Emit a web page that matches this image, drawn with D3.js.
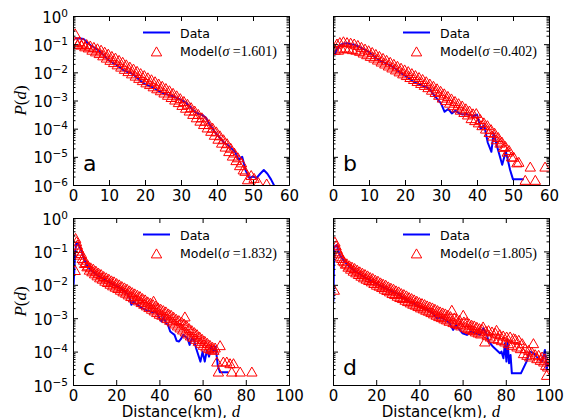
<!DOCTYPE html>
<html><head><meta charset="utf-8">
<script src="https://cdn.jsdelivr.net/npm/d3@7"></script>
<style>body{margin:0;background:#fff;} svg{display:block;}</style>
</head><body>
<svg id="chart" width="569" height="418"></svg>
<script>
// ---- DATA: [distance d (km), log10 P(d)] ----
const dataA = [[0.5,-0.8],[1,-0.8],[2,-0.8],[3,-0.82],[4,-0.95],[5,-1.05],[6,-1.12],[7,-1.22],[8,-1.33],[9,-1.45],[10,-1.58],[11,-1.66],[12,-1.73],[13,-1.83],[14,-1.92],[15,-1.98],[16,-2.02],[17,-2.1],[18,-2.22],[19,-2.33],[20,-2.42],[21,-2.47],[22,-2.52],[23,-2.6],[24,-2.68],[25,-2.74],[26,-2.78],[27,-2.82],[28,-2.86],[29,-2.92],[30,-2.98],[31,-3.05],[32,-3.15],[33,-3.3],[34,-3.42],[35,-3.48],[36,-3.52],[37,-3.62],[38,-3.85],[39,-4.05],[40,-4.2],[41,-4.35],[42,-4.5],[43,-4.58],[44,-4.7],[45,-4.82],[46,-5.1],[47,-5.0],[48,-5.5],[49,-5.75],[50,-5.7],[51,-5.75],[52,-5.6],[53,-5.47],[54,-5.6],[55,-5.8],[56,-6.05]];
const modelA = [[0.6,-0.62],[0.8,-0.92],[1.3,-1.0],[1.8,-0.9],[2.3,-1.02],[2.8,-0.95],[3.3,-1.08],[3.8,-1.0],[4.3,-1.12],[4.8,-1.05],[5.3,-1.2],[5.8,-1.1],[6.3,-1.26],[6.8,-1.15],[7.3,-1.32],[7.8,-1.2],[8.3,-1.4],[8.8,-1.27],[9.3,-1.48],[9.8,-1.34],[10.3,-1.56],[10.8,-1.42],[11.3,-1.64],[11.8,-1.48],[12.3,-1.72],[12.8,-1.56],[13.3,-1.8],[13.8,-1.63],[14.3,-1.88],[14.8,-1.72],[15.3,-1.96],[15.8,-1.8],[16.3,-2.04],[16.8,-1.87],[17.3,-2.12],[17.8,-1.95],[18.3,-2.2],[18.8,-2.03],[19.3,-2.28],[19.8,-2.1],[20.3,-2.36],[20.8,-2.18],[21.3,-2.42],[21.8,-2.25],[22.3,-2.5],[22.8,-2.32],[23.3,-2.57],[23.8,-2.4],[24.3,-2.64],[24.8,-2.48],[25.3,-2.72],[25.8,-2.56],[26.3,-2.8],[26.8,-2.64],[27.3,-2.88],[27.8,-2.73],[28.3,-2.97],[28.8,-2.82],[29.3,-3.06],[29.8,-2.92],[30.3,-3.16],[30.8,-3.02],[31.3,-3.26],[31.8,-3.12],[32.3,-3.36],[32.8,-3.24],[33.3,-3.48],[33.8,-3.36],[34.3,-3.6],[34.8,-3.48],[35.3,-3.72],[35.8,-3.6],[36.3,-3.84],[36.8,-3.72],[37.3,-3.96],[37.8,-3.84],[38.3,-4.08],[38.8,-3.97],[39.3,-4.22],[39.8,-4.1],[40.3,-4.36],[40.8,-4.24],[41.3,-4.5],[41.8,-4.38],[42.3,-4.64],[42.8,-4.52],[43.3,-4.8],[43.8,-4.68],[44.3,-4.96],[44.8,-4.85],[45.3,-5.12],[45.8,-5.02],[46.3,-5.3],[46.8,-5.2],[47.3,-5.45],[47.8,-5.5],[48.5,-5.8],[49.5,-5.65],[50.3,-5.75],[51.5,-5.9],[53.8,-5.95]];

const dataB = [[0.6,-1.38],[1,-1.2],[2,-1.03],[3,-0.98],[4,-0.97],[5,-1.0],[6,-1.02],[7,-1.08],[8,-1.14],[9,-1.2],[10,-1.28],[11,-1.38],[12,-1.5],[13,-1.58],[14,-1.64],[15,-1.7],[16,-1.76],[17,-1.84],[18,-1.94],[19,-2.04],[20,-2.12],[21,-2.2],[22,-2.3],[23,-2.38],[24,-2.42],[25,-2.48],[26,-2.53],[27,-2.62],[28,-2.8],[29,-2.95],[30,-3.1],[31,-3.4],[32,-3.3],[33,-3.46],[34,-3.36],[35,-3.45],[36,-3.5],[37,-3.48],[38,-3.52],[39,-3.55],[40,-3.5],[41,-4.0],[42,-3.88],[43,-4.5],[44,-4.82],[44.6,-4.15],[45.5,-4.6],[47,-5.28],[48,-4.8],[49.2,-5.47],[50,-5.8],[53,-5.8]];
const modelB = [[0.6,-1.2],[1.1,-0.98],[1.5,-1.2],[1.9,-0.93],[2.4,-1.15],[2.9,-0.9],[3.4,-1.12],[3.9,-0.93],[4.4,-1.15],[4.9,-0.95],[5.4,-1.18],[5.9,-0.98],[6.4,-1.2],[6.9,-1.03],[7.4,-1.24],[7.9,-1.1],[8.4,-1.3],[8.9,-1.16],[9.4,-1.36],[9.9,-1.22],[10.4,-1.42],[10.9,-1.28],[11.4,-1.48],[11.9,-1.35],[12.4,-1.55],[12.9,-1.42],[13.4,-1.62],[13.9,-1.49],[14.4,-1.69],[14.9,-1.56],[15.4,-1.76],[15.9,-1.63],[16.4,-1.83],[16.9,-1.7],[17.4,-1.9],[17.9,-1.77],[18.4,-1.97],[18.9,-1.84],[19.4,-2.04],[19.9,-1.9],[20.4,-2.1],[20.9,-1.96],[21.4,-2.17],[21.9,-2.03],[22.4,-2.24],[22.9,-2.1],[23.4,-2.31],[23.9,-2.17],[24.4,-2.38],[24.9,-2.24],[25.4,-2.45],[25.9,-2.32],[26.4,-2.53],[26.9,-2.4],[27.4,-2.62],[27.9,-2.48],[28.4,-2.7],[28.9,-2.57],[29.4,-2.8],[29.9,-2.66],[30.4,-2.9],[30.9,-2.75],[31.4,-2.99],[31.9,-2.84],[32.4,-3.08],[32.9,-2.93],[33.4,-3.17],[33.9,-3.02],[34.4,-3.25],[34.9,-3.1],[35.4,-3.33],[35.9,-3.18],[36.4,-3.41],[36.9,-3.28],[37.4,-3.5],[37.9,-3.36],[38.4,-3.63],[38.9,-3.46],[39.4,-3.7],[39.8,-3.45],[40.4,-3.78],[40.9,-3.66],[41.4,-3.88],[41.9,-3.78],[42.4,-4.0],[42.9,-3.88],[43.4,-4.12],[43.9,-4.02],[44.4,-4.25],[44.9,-4.15],[45.4,-4.38],[45.9,-4.3],[46.4,-4.5],[46.9,-4.46],[47.4,-4.65],[47.9,-4.62],[48.4,-4.82],[48.9,-4.76],[49.6,-4.99],[50.2,-5.0],[51.1,-5.2],[51.6,-5.18],[53.4,-5.82],[54.8,-5.35],[56.2,-5.82],[58.9,-5.35]];

const dataC = [[0.3,-2.0],[1,-1.0],[1.5,-0.76],[2,-0.74],[3,-0.85],[4,-1.0],[5,-1.2],[6,-1.36],[7,-1.47],[8,-1.54],[9,-1.6],[10,-1.65],[11,-1.7],[12,-1.74],[13,-1.78],[14,-1.82],[15,-1.86],[16,-1.9],[17,-1.93],[18,-1.96],[19,-2.0],[20,-2.03],[21,-2.06],[22,-2.1],[23,-2.15],[24,-2.2],[25,-2.26],[26,-2.35],[27,-2.6],[28,-2.5],[29,-2.56],[30,-2.6],[31,-2.66],[32,-2.7],[33,-2.73],[34,-2.76],[35,-2.78],[36,-2.8],[37,-2.82],[38,-2.8],[39,-2.85],[40,-3.0],[41,-3.1],[42,-2.95],[43,-3.15],[44,-3.2],[45,-3.4],[46,-3.45],[47,-3.5],[48,-3.68],[49,-3.7],[50,-3.62],[51,-3.5],[52,-3.55],[53,-3.6],[54,-3.8],[55,-3.6],[56,-3.65],[57,-3.9],[58,-4.1],[59,-4.3],[60,-4.0],[61,-4.3],[62,-3.95],[63,-4.15],[64,-3.85],[65,-4.0],[66,-3.85],[67,-4.4],[68,-4.62],[72,-4.62]];
const modelC = [[1.0,-1.56],[1.2,-0.6],[1.6,-0.7],[2.0,-0.8],[2.5,-0.9],[3.0,-0.98],[3.4,-1.1],[3.8,-1.05],[4.3,-1.2],[4.9,-1.25],[5.4,-1.35],[6.0,-1.32],[6.5,-1.45],[7.0,-1.42],[7.6,-1.55],[8.2,-1.48],[8.8,-1.6],[9.4,-1.52],[10.0,-1.66],[10.6,-1.58],[11.2,-1.72],[11.8,-1.64],[12.4,-1.78],[13.0,-1.68],[13.6,-1.82],[14.2,-1.74],[14.8,-1.88],[15.4,-1.78],[16.0,-1.92],[16.6,-1.82],[17.2,-1.97],[17.8,-1.87],[18.4,-2.02],[19.0,-1.9],[19.6,-2.06],[20.2,-1.95],[20.8,-2.1],[21.4,-1.99],[22.0,-2.15],[22.6,-2.04],[23.2,-2.2],[23.8,-2.08],[24.4,-2.24],[25.0,-2.12],[25.6,-2.29],[26.2,-2.17],[26.8,-2.34],[27.4,-2.22],[28.0,-2.38],[28.6,-2.26],[29.2,-2.43],[29.8,-2.3],[30.4,-2.47],[31.0,-2.34],[31.6,-2.52],[32.2,-2.4],[32.8,-2.57],[33.4,-2.44],[34.0,-2.62],[34.6,-2.5],[35.2,-2.67],[35.8,-2.54],[36.4,-2.72],[37.0,-2.58],[37.3,-2.48],[37.6,-2.77],[38.2,-2.63],[38.8,-2.82],[39.4,-2.68],[40.0,-2.87],[40.6,-2.72],[41.2,-2.9],[41.8,-2.76],[42.4,-2.95],[43.0,-2.8],[43.6,-3.0],[44.2,-2.86],[44.8,-3.05],[45.4,-2.9],[46.0,-3.1],[46.6,-2.96],[47.2,-3.16],[47.8,-3.02],[48.4,-3.22],[49.0,-3.06],[49.6,-3.28],[50.2,-3.1],[50.8,-3.34],[51.4,-3.16],[51.8,-2.95],[52.0,-3.4],[52.6,-3.22],[53.2,-3.46],[53.8,-3.3],[54.4,-3.52],[55.0,-3.36],[55.6,-3.56],[56.2,-3.42],[56.8,-3.62],[57.4,-3.48],[58.0,-3.68],[58.6,-3.55],[59.2,-3.74],[59.8,-3.62],[60.4,-3.8],[61.0,-3.68],[61.6,-3.85],[62.2,-3.74],[62.8,-3.9],[63.4,-3.8],[64.0,-3.92],[64.6,-3.86],[65.2,-3.95],[65.8,-3.88],[66.6,-4.3],[67.3,-4.6],[68.1,-3.81],[69.6,-4.3],[71.2,-4.3],[72.7,-4.35],[73.5,-4.6],[74.3,-4.35],[77.4,-4.6],[82.8,-4.6]];

const dataD = [[0.2,-2.5],[0.6,-0.86],[1.7,-0.81],[3,-1.08],[4,-1.2],[5,-1.28],[6,-1.35],[8,-1.48],[10,-1.58],[12,-1.66],[14,-1.75],[16,-1.82],[18,-1.9],[20,-1.96],[22,-2.03],[24,-2.09],[26,-2.15],[28,-2.21],[30,-2.27],[32,-2.36],[34,-2.45],[36,-2.52],[38,-2.58],[40,-2.65],[42,-2.72],[44,-2.76],[46,-2.85],[48,-3.0],[50,-2.98],[52,-3.05],[54,-3.15],[55.6,-3.35],[57,-3.2],[58,-3.3],[60,-3.45],[62,-3.5],[64,-3.4],[66,-3.45],[68,-3.5],[69.5,-3.3],[71,-3.45],[72,-3.68],[74,-3.85],[75.7,-3.95],[77.3,-4.05],[78,-4.0],[78.9,-4.2],[79.6,-3.75],[80.3,-4.3],[80.8,-3.65],[81.5,-4.35],[82.2,-4.1],[82.8,-4.65],[87,-4.65],[89.6,-4.3],[91.1,-4.0],[92.9,-4.05],[94.2,-4.15],[96.7,-4.3],[98.1,-3.95],[98.9,-4.55],[99.5,-4.3]];
const modelD = [[0.6,-2.15],[0.9,-0.71],[1.4,-0.82],[1.9,-0.92],[2.4,-1.0],[2.9,-1.06],[3.4,-1.15],[4.0,-1.2],[4.6,-1.27],[5.2,-1.3],[5.8,-1.37],[6.4,-1.36],[7.0,-1.46],[7.6,-1.42],[8.2,-1.52],[8.8,-1.46],[9.4,-1.58],[10.0,-1.5],[10.6,-1.63],[11.2,-1.55],[11.8,-1.68],[12.4,-1.6],[13.0,-1.73],[13.6,-1.64],[14.2,-1.78],[14.8,-1.68],[15.4,-1.82],[16.0,-1.72],[16.6,-1.86],[17.2,-1.77],[17.8,-1.9],[18.4,-1.8],[19.0,-1.95],[19.6,-1.85],[20.2,-2.0],[20.8,-1.88],[21.4,-2.03],[22.0,-1.93],[22.6,-2.07],[23.2,-1.97],[23.8,-2.12],[24.4,-2.0],[25.0,-2.16],[25.6,-2.05],[26.2,-2.2],[26.8,-2.09],[27.4,-2.25],[28.0,-2.12],[28.6,-2.28],[29.2,-2.17],[29.8,-2.33],[30.4,-2.2],[31.0,-2.37],[31.6,-2.25],[32.2,-2.4],[32.8,-2.28],[33.4,-2.45],[34.0,-2.32],[34.6,-2.49],[35.2,-2.37],[35.8,-2.53],[36.4,-2.4],[37.0,-2.57],[37.6,-2.44],[38.2,-2.6],[38.8,-2.48],[39.4,-2.64],[40.0,-2.52],[40.6,-2.68],[41.2,-2.55],[41.8,-2.71],[42.4,-2.58],[43.0,-2.75],[43.6,-2.62],[44.2,-2.78],[44.8,-2.65],[45.4,-2.82],[46.0,-2.68],[46.6,-2.86],[47.2,-2.72],[47.8,-2.9],[48.4,-2.76],[49.0,-2.94],[49.6,-2.8],[50.2,-2.97],[50.8,-2.83],[51.4,-3.01],[52.0,-2.86],[52.6,-3.04],[53.2,-2.9],[53.8,-3.08],[54.4,-2.94],[55.0,-2.75],[55.6,-3.12],[56.2,-2.98],[56.8,-3.15],[57.4,-3.02],[58.0,-3.18],[58.6,-3.05],[59.2,-3.22],[60.3,-2.9],[60.6,-3.1],[61.2,-3.26],[61.8,-3.12],[62.4,-3.3],[63.0,-3.16],[63.6,-3.33],[64.2,-3.2],[64.8,-3.36],[65.4,-3.22],[66.0,-3.4],[66.6,-3.26],[67.2,-3.43],[67.8,-3.3],[68.4,-3.46],[69.0,-3.32],[69.5,-3.25],[70.3,-3.7],[70.8,-3.38],[71.4,-3.5],[72.0,-3.36],[72.8,-3.55],[73.6,-3.4],[74.4,-3.6],[75.2,-3.44],[75.7,-3.35],[76.4,-3.62],[77.2,-3.48],[78.0,-3.66],[78.8,-3.52],[79.6,-3.7],[80.4,-3.55],[81.2,-3.75],[82.0,-3.55],[82.8,-3.8],[83.6,-3.6],[84.4,-3.62],[85.2,-3.85],[86.0,-3.65],[86.8,-3.9],[87.6,-3.75],[88.2,-4.05],[89.0,-3.9],[89.8,-4.1],[90.6,-3.95],[91.1,-4.15],[92.0,-4.0],[92.8,-3.75],[93.6,-4.08],[94.4,-4.2],[95.2,-4.1],[96.0,-4.25],[96.8,-4.15],[97.6,-4.3],[98.1,-4.2],[98.5,-4.4],[98.9,-4.7],[99.4,-4.45]];

const sigmas = ["1.601", "0.402", "1.832", "1.805"];
const letters = ["a", "b", "c", "d"];
const xTicksTop = [0, 10, 20, 30, 40, 50, 60];
const xTicksBottom = [0, 20, 40, 60, 80, 100];
const yExpTop = [0, -1, -2, -3, -4, -5, -6];
const yExpBottom = [0, -1, -2, -3, -4, -5];

// ---- LAYOUT ----
const SANS = '"DejaVu Sans", sans-serif';
const SERIF = '"Liberation Serif", "DejaVu Serif", serif';
const svg = d3.select("#chart");
const panels = [
  {data: dataA, model: modelA, xMax: 60, xt: xTicksTop,    ye: yExpTop,    x0: 73,  x1: 289, y0: 16,  y1: 185, showY: true,  letterOff: 14},
  {data: dataB, model: modelB, xMax: 60, xt: xTicksTop,    ye: yExpTop,    x0: 333, x1: 549, y0: 16,  y1: 185, showY: false, letterOff: 14},
  {data: dataC, model: modelC, xMax: 100, xt: xTicksBottom, ye: yExpBottom, x0: 73,  x1: 289, y0: 218, y1: 385, showY: true,  letterOff: 10, xlabel: true},
  {data: dataD, model: modelD, xMax: 100, xt: xTicksBottom, ye: yExpBottom, x0: 333, x1: 549, y0: 218, y1: 385, showY: false, letterOff: 10, xlabel: true}
];
const triPath = "M0,-4.6L5.2,4.4L-5.2,4.4Z";
const P = v => Math.pow(10, v);

panels.forEach((p, i) => {
  const x = d3.scaleLinear().domain([0, p.xMax]).range([p.x0, p.x1]);
  const yMin = d3.min(p.ye);
  const y = d3.scaleLog().domain([P(yMin), 1]).range([p.y1, p.y0]);
  const g = svg.append("g");

  svg.append("clipPath").attr("id", "clip" + i).append("rect")
    .attr("x", p.x0).attr("y", p.y0).attr("width", p.x1 - p.x0).attr("height", p.y1 - p.y0);
  const dg = g.append("g").attr("clip-path", `url(#clip${i})`);

  const line = d3.line().x(d => x(d[0])).y(d => y(P(d[1])));
  dg.append("path").datum(p.data).attr("d", line)
    .attr("fill", "none").attr("stroke", "#0000ff").attr("stroke-width", 2).attr("stroke-linejoin", "round");

  dg.selectAll("path.tri").data(p.model).join("path").attr("class", "tri")
    .attr("d", triPath)
    .attr("transform", d => `translate(${x(d[0])},${y(P(d[1]))})`)
    .attr("fill", "none").attr("stroke", "#ff0000").attr("stroke-width", 1);

  // minor ticks for log axis
  const minors = [];
  for (let k = yMin; k < 0; k++) for (let m = 2; m <= 9; m++) minors.push(m * P(k));
  const majors = p.ye.map(P);

  const styleAxis = sel => {
    sel.selectAll("path.domain").attr("stroke", "#000");
    sel.selectAll(".tick line").attr("stroke", "#000");
  };

  g.append("g").attr("transform", `translate(0,${p.y1})`)
    .call(d3.axisBottom(x).tickValues(p.xt).tickSize(-5).tickSizeOuter(0).tickPadding(5.5).tickFormat(d3.format("d")))
    .call(styleAxis)
    .call(s => s.selectAll("text").attr("font-family", SANS).attr("font-size", 15).attr("fill", "#000"));
  g.append("g").attr("transform", `translate(0,${p.y0})`)
    .call(d3.axisTop(x).tickValues(p.xt).tickSize(-5).tickSizeOuter(0).tickFormat(""))
    .call(styleAxis);
  g.append("g").attr("transform", `translate(${p.x0},0)`)
    .call(d3.axisLeft(y).tickValues(majors).tickSize(-5).tickSizeOuter(0).tickFormat(""))
    .call(styleAxis);
  g.append("g").attr("transform", `translate(${p.x0},0)`)
    .call(d3.axisLeft(y).tickValues(minors).tickSize(-2.5).tickSizeOuter(0).tickFormat(""))
    .call(styleAxis);
  g.append("g").attr("transform", `translate(${p.x1},0)`)
    .call(d3.axisRight(y).tickValues(majors).tickSize(-5).tickSizeOuter(0).tickFormat(""))
    .call(styleAxis);
  g.append("g").attr("transform", `translate(${p.x1},0)`)
    .call(d3.axisRight(y).tickValues(minors).tickSize(-2.5).tickSizeOuter(0).tickFormat(""))
    .call(styleAxis);

  if (p.showY) {
    p.ye.forEach(k => {
      const t = g.append("text").attr("x", p.x0 - 5).attr("y", y(P(k)) + 6.5)
        .attr("text-anchor", "end").attr("font-family", SANS).attr("font-size", 15).attr("fill", "#000");
      t.append("tspan").text("10");
      t.append("tspan").attr("dy", -6).attr("font-size", 10.5).text(k === 0 ? "0" : "\u2212" + Math.abs(k));
    });
    const yl = g.append("text")
      .attr("transform", `translate(26,${(p.y0 + p.y1) / 2}) rotate(-90)`)
      .attr("text-anchor", "middle").attr("font-family", SERIF).attr("font-size", 17).attr("fill", "#000");
    yl.append("tspan").attr("font-style", "italic").text("P");
    yl.append("tspan").text("(");
    yl.append("tspan").attr("font-style", "italic").text("d");
    yl.append("tspan").text(")");
  }

  if (p.xlabel) {
    const xl = g.append("text").attr("x", (p.x0 + p.x1) / 2).attr("y", 417)
      .attr("text-anchor", "middle").attr("font-family", SANS).attr("font-size", 15).attr("fill", "#000");
    xl.append("tspan").text("Distance(km), ");
    xl.append("tspan").attr("font-family", SERIF).attr("font-style", "italic").attr("font-size", 17).text("d");
  }

  // legend
  const lg = g.append("g");
  lg.append("line").attr("x1", p.x1 - 146).attr("x2", p.x1 - 119)
    .attr("y1", p.y0 + 16.5).attr("y2", p.y0 + 16.5).attr("stroke", "#0000ff").attr("stroke-width", 2);
  lg.append("text").attr("x", p.x1 - 109).attr("y", p.y0 + 21.5)
    .attr("font-family", SANS).attr("font-size", 12.5).attr("fill", "#000").text("Data");
  lg.append("path").attr("d", triPath).attr("transform", `translate(${p.x1 - 132.5},${p.y0 + 35.5})`)
    .attr("fill", "none").attr("stroke", "#ff0000").attr("stroke-width", 1);
  const mt = lg.append("text").attr("x", p.x1 - 109).attr("y", p.y0 + 40)
    .attr("font-family", SANS).attr("font-size", 12.5).attr("fill", "#000");
  mt.append("tspan").text("Model(");
  mt.append("tspan").attr("font-family", SERIF).attr("font-style", "italic").attr("font-size", 14).text("\u03C3");
  mt.append("tspan").attr("font-family", SERIF).attr("font-size", 14).text(" =" + sigmas[i] + ")");

  // panel letter
  g.append("text").attr("x", p.x0 + 10).attr("y", p.y1 - p.letterOff)
    .attr("font-family", SANS).attr("font-size", 22).attr("fill", "#000").text(letters[i]);
});
</script>
</body></html>
